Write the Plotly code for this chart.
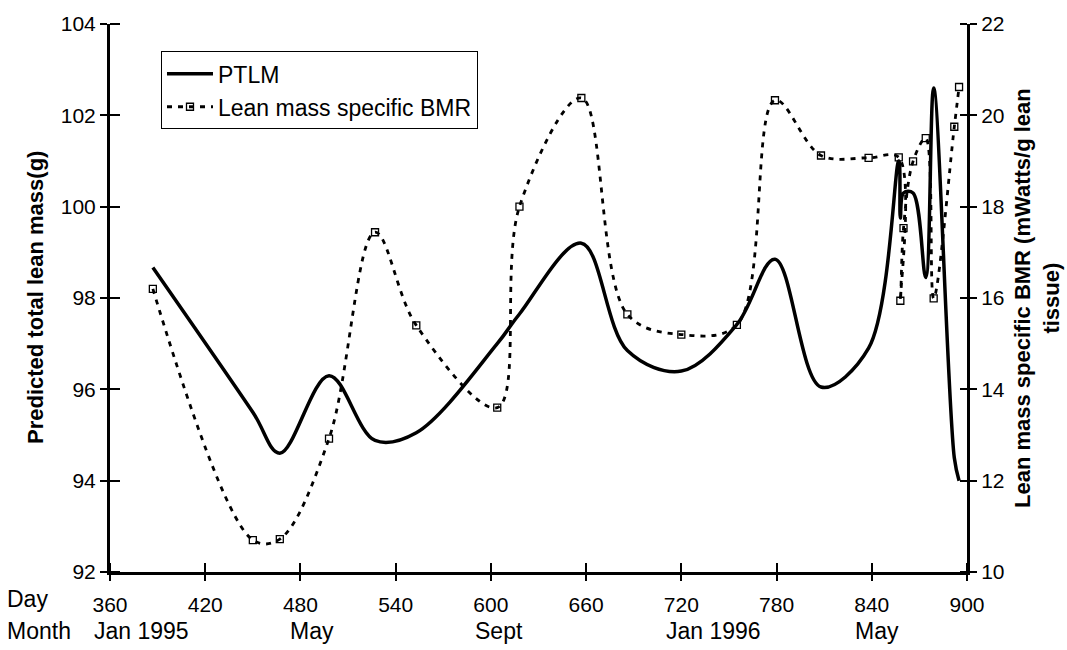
import plotly.graph_objects as go

# ---- data ----
days = [387, 450, 467, 498, 527, 553, 604, 618, 657, 686, 720, 755,
        779, 808, 838, 857, 858, 860, 866, 874, 879, 892, 895]
ptlm = [98.67, 95.5, 94.6, 96.3, 94.88, 95.05, 97.0, 97.65, 99.2, 96.85, 96.4, 97.42,
        98.85, 96.05, 96.9, 101.0, 99.75, 100.3, 100.3, 98.45, 102.6, 94.5, 94.0]
bmr = [16.2, 10.7, 10.72, 12.92, 17.44, 15.4, 13.6, 18.0, 20.38, 15.64, 15.2, 15.41,
       20.33, 19.12, 19.07, 19.08, 15.94, 17.53, 18.99, 19.5, 15.99, 19.75, 20.62]

x_ticks = [360, 420, 480, 540, 600, 660, 720, 780, 840, 900]
left_ticks = [92, 94, 96, 98, 100, 102, 104]
right_ticks = [10, 12, 14, 16, 18, 20, 22]
month_labels = ["Jan 1995", "May", "Sept", "Jan 1996", "May"]
month_days = [380, 487, 605, 740, 843]

FONT = "Liberation Sans, Arial, sans-serif"
EPS = 1e-6  # inner half of each tick is drawn as a minor tick at the same value


def inner(vals, length):
    return dict(tickmode="array", tickvals=[v + EPS for v in vals], ticks="inside",
                ticklen=length, tickwidth=2, tickcolor="black", showgrid=False)


fig = go.Figure()
fig.add_trace(go.Scatter(
    x=days, y=ptlm, name="PTLM", mode="lines",
    line=dict(color="black", width=3.5, shape="spline", smoothing=1.0),
    xaxis="x", yaxis="y"))
fig.add_trace(go.Scatter(
    x=days, y=bmr, name="Lean mass specific BMR", mode="lines+markers",
    line=dict(color="black", width=2.8, dash="5px,6px", shape="spline", smoothing=1.0),
    marker=dict(symbol="square-open", size=7, color="black", line=dict(width=1.3)),
    xaxis="x", yaxis="y2"))

tickfont = dict(family=FONT, size=21, color="black")
common = dict(showgrid=False, zeroline=False, tickcolor="black", tickwidth=2)

fig.update_layout(
    width=1067, height=650,
    margin=dict(l=110, r=100, t=19, b=78),
    paper_bgcolor="white", plot_bgcolor="white",
    showlegend=True,
    legend=dict(x=0.0595, y=0.95, xanchor="left", yanchor="top",
                bordercolor="black", borderwidth=1, bgcolor="white",
                font=dict(family=FONT, size=23, color="black"),
                itemwidth=46, tracegroupgap=0),
    xaxis=dict(range=[360, 900], tickvals=x_ticks, ticks="outside", ticklen=6,
               showline=True, linewidth=3, linecolor="black",
               tickfont=tickfont, ticklabelstandoff=6,
               minor=inner(x_ticks, 9), **common),
    yaxis=dict(range=[92, 104], tickvals=left_ticks, ticks="outside", ticklen=7,
               showline=True, linewidth=3, linecolor="black", tickfont=tickfont,
               minor=inner(left_ticks, 10), **common),
    yaxis2=dict(range=[10, 22], tickvals=right_ticks, overlaying="y", side="right",
                ticks="outside", ticklen=7, showline=True, linewidth=3,
                linecolor="black", tickfont=tickfont,
                minor=inner(right_ticks, 7), **common),
)

ann = []
ann.append(dict(text="<b>Predicted total lean mass(g)</b>", textangle=-90,
                xref="paper", yref="paper", x=0, y=0.5, xshift=-75,
                xanchor="center", yanchor="middle", showarrow=False,
                font=dict(family=FONT, size=22, color="black")))
ann.append(dict(text="<b>Lean mass specific BMR (mWatts/g lean<br>tissue)</b>",
                textangle=-90, xref="paper", yref="paper", x=1, y=0.5, xshift=70,
                xanchor="center", yanchor="middle", showarrow=False,
                font=dict(family=FONT, size=22, color="black")))
ann.append(dict(text="Day", xref="paper", yref="paper", x=0, y=0, xshift=-105,
                yshift=-27, xanchor="left", yanchor="middle", showarrow=False,
                font=dict(family=FONT, size=23, color="black")))
ann.append(dict(text="Month", xref="paper", yref="paper", x=0, y=0, xshift=-105,
                yshift=-59, xanchor="left", yanchor="middle", showarrow=False,
                font=dict(family=FONT, size=23, color="black")))
for lab, d in zip(month_labels, month_days):
    ann.append(dict(text=lab, xref="x", yref="paper", x=d, y=0, yshift=-59,
                    xanchor="center", yanchor="middle", showarrow=False,
                    font=dict(family=FONT, size=23, color="black")))
fig.update_layout(annotations=ann)

fig.write_html("out.html")
